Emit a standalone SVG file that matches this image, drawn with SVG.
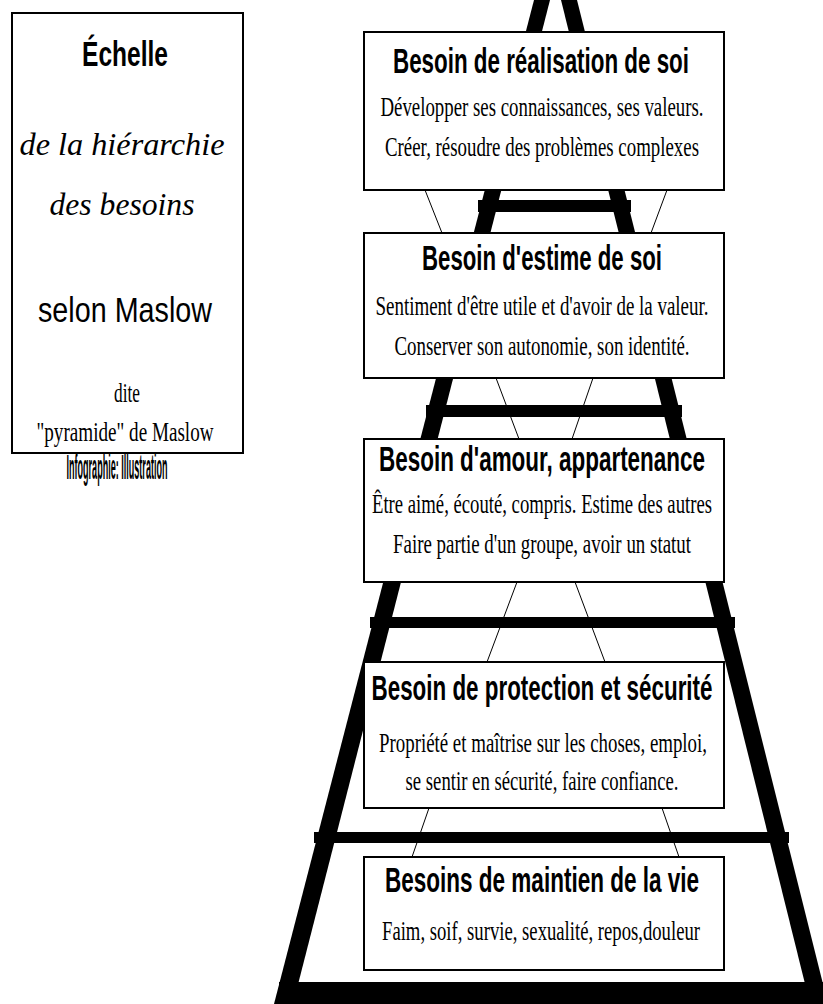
<svg xmlns="http://www.w3.org/2000/svg" width="823" height="1004" viewBox="0 0 823 1004">
<style>
.box{fill:#fff;stroke:#000;stroke-width:2}
.t{font-family:"Liberation Sans",Arial,sans-serif;font-weight:bold;font-size:35px;text-anchor:middle;fill:#000}
.b{font-family:"Liberation Serif","Times New Roman",serif;font-size:27px;text-anchor:middle;fill:#000}
.it{font-family:"Liberation Serif","Times New Roman",serif;font-style:italic;font-size:32px;text-anchor:middle;fill:#000}
.s{stroke:#000;stroke-width:1;fill:none}
</style>
<rect width="823" height="1004" fill="#fff"/>
<g id="ladder" fill="#000">
<polygon points="534,0 550,0 293,1004 274,1004"/>
<polygon points="561,0 577,0 828,1004 810,1004"/>
<rect x="478" y="200" width="153" height="12"/>
<rect x="426" y="405" width="256" height="12"/>
<rect x="370" y="617" width="365" height="11"/>
<rect x="314" y="832" width="475" height="11"/>
<rect x="279" y="982" width="544" height="22"/>
</g>
<g id="connectors">
<line class="s" x1="425" y1="190" x2="442" y2="233"/>
<line class="s" x1="667" y1="190" x2="651" y2="233"/>
<line class="s" x1="496" y1="378" x2="519" y2="439"/>
<line class="s" x1="593" y1="378" x2="572" y2="439"/>
<line class="s" x1="517" y1="582" x2="487" y2="662"/>
<line class="s" x1="575" y1="582" x2="605" y2="662"/>
<line class="s" x1="429" y1="808" x2="412" y2="857"/>
<line class="s" x1="662" y1="808" x2="679" y2="857"/>
</g>
<g id="title-box">
<rect class="box" x="12" y="13" width="231" height="440"/>
<text x="125" y="66" class="t" font-size="31" textLength="86" lengthAdjust="spacingAndGlyphs">Échelle</text>
<text x="122" y="155" class="it" textLength="205" lengthAdjust="spacingAndGlyphs">de la hiérarchie</text>
<text x="122" y="215" class="it" textLength="145" lengthAdjust="spacingAndGlyphs">des besoins</text>
<text x="125" y="322" class="t" style="font-weight:normal" font-size="36" textLength="174" lengthAdjust="spacingAndGlyphs">selon Maslow</text>
<text x="127" y="402" class="b" font-size="24" textLength="26" lengthAdjust="spacingAndGlyphs">dite</text>
<text x="125" y="441" class="b" font-size="24" textLength="177" lengthAdjust="spacingAndGlyphs">"pyramide" de Maslow</text>
<text x="117" y="479" class="t" font-size="12" textLength="101" lengthAdjust="spacingAndGlyphs">Infographie: Illustration</text>
</g>
<g id="n1">
<rect class="box" x="364" y="32" width="360" height="158"/>
<text x="541" y="73" class="t" textLength="296" lengthAdjust="spacingAndGlyphs">Besoin de réalisation de soi</text>
<text x="542" y="116" class="b" textLength="323" lengthAdjust="spacingAndGlyphs">Développer ses connaissances, ses valeurs.</text>
<text x="542" y="156" class="b" textLength="314" lengthAdjust="spacingAndGlyphs">Créer, résoudre des problèmes complexes</text>
</g>
<g id="n2">
<rect class="box" x="364" y="233" width="360" height="145"/>
<text x="542" y="270" class="t" textLength="240" lengthAdjust="spacingAndGlyphs">Besoin d'estime de soi</text>
<text x="542" y="315" class="b" textLength="333" lengthAdjust="spacingAndGlyphs">Sentiment d'être utile et d'avoir de la valeur.</text>
<text x="542" y="355" class="b" textLength="295" lengthAdjust="spacingAndGlyphs">Conserver son autonomie, son identité.</text>
</g>
<g id="n3">
<rect class="box" x="364" y="439" width="360" height="143"/>
<text x="542" y="471" class="t" font-size="34" textLength="326" lengthAdjust="spacingAndGlyphs">Besoin d'amour, appartenance</text>
<text x="542" y="513" class="b" textLength="340" lengthAdjust="spacingAndGlyphs">Être aimé, écouté, compris. Estime des autres</text>
<text x="542" y="553" class="b" textLength="298" lengthAdjust="spacingAndGlyphs">Faire partie d'un groupe, avoir un statut</text>
</g>
<g id="n4">
<rect class="box" x="364" y="662" width="360" height="146"/>
<text x="542" y="700" class="t" textLength="341" lengthAdjust="spacingAndGlyphs">Besoin de protection et sécurité</text>
<text x="543" y="752" class="b" textLength="328" lengthAdjust="spacingAndGlyphs">Propriété et maîtrise sur les choses, emploi,</text>
<text x="542" y="790" class="b" textLength="273" lengthAdjust="spacingAndGlyphs">se sentir en sécurité, faire confiance.</text>
</g>
<g id="n5">
<rect class="box" x="364" y="857" width="360" height="113"/>
<text x="542" y="892" class="t" textLength="314" lengthAdjust="spacingAndGlyphs">Besoins de maintien de la vie</text>
<text x="541" y="940" class="b" textLength="318" lengthAdjust="spacingAndGlyphs">Faim, soif, survie, sexualité, repos,douleur</text>
</g>
</svg>
